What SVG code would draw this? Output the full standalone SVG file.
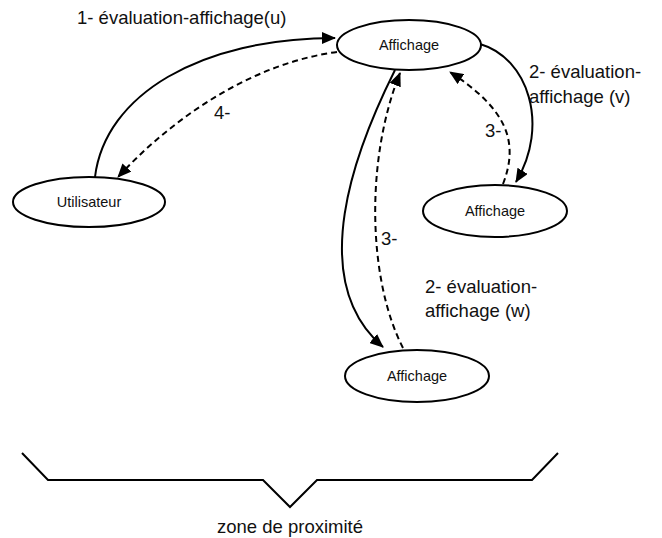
<svg xmlns="http://www.w3.org/2000/svg" width="662" height="538" viewBox="0 0 662 538">
<style>
.node ellipse{fill:#fff;stroke:#000;stroke-width:2}
.node text{font-family:"Liberation Sans",Arial,sans-serif;font-size:14.5px;fill:#111;text-anchor:middle}
.lbl{font-family:"Liberation Sans",Arial,sans-serif;font-size:18.5px;fill:#111}
.c{fill:none;stroke:#000;stroke-width:2}
.d{stroke-dasharray:6,4}
</style>
<defs>
<marker id="ah" markerUnits="userSpaceOnUse" markerWidth="14" markerHeight="12" viewBox="0 0 14 12" refX="13" refY="6" orient="auto">
<path d="M0,0 L14,6 L0,12 z" fill="#000"/>
</marker>
</defs>
<rect width="662" height="538" fill="#fff"/>
<g id="connectors">
<path class="c" d="M95,177 C105,95 200,38 335,38" marker-end="url(#ah)"/>
<path class="c d" d="M337,52 C260,62 180,110 118,177" marker-end="url(#ah)"/>
<path class="c" d="M480,44 C528,58 550,125 516,182" marker-end="url(#ah)"/>
<path class="c d" d="M503,184 C520,140 505,108 450,72" marker-end="url(#ah)"/>
<path class="c" d="M395,70 C355,150 305,280 383,347" marker-end="url(#ah)"/>
<path class="c d" d="M403,348 C368,280 365,160 400,73" marker-end="url(#ah)"/>
</g>
<g id="node-affichage-top" class="node">
<ellipse cx="409" cy="45" rx="72" ry="25"/>
<text x="409" y="50">Affichage</text>
</g>
<g id="node-utilisateur" class="node">
<ellipse cx="89" cy="202" rx="76" ry="25"/>
<text x="89" y="207">Utilisateur</text>
</g>
<g id="node-affichage-right" class="node">
<ellipse cx="495" cy="211" rx="72" ry="26"/>
<text x="495" y="216">Affichage</text>
</g>
<g id="node-affichage-bottom" class="node">
<ellipse cx="417" cy="376" rx="72" ry="26"/>
<text x="417" y="381">Affichage</text>
</g>
<g id="labels">
<text class="lbl" x="77" y="24">1- évaluation-affichage(u)</text>
<text class="lbl" x="214" y="119">4-</text>
<text class="lbl" x="529" y="78">2- évaluation-</text>
<text class="lbl" x="529" y="103">affichage (v)</text>
<text class="lbl" x="485" y="137">3-</text>
<text class="lbl" x="381" y="245">3-</text>
<text class="lbl" x="425" y="293">2- évaluation-</text>
<text class="lbl" x="425" y="317">affichage (w)</text>
</g>
<g id="brace">
<polyline class="c" points="22,453 48,480 263,480 290,507 317,480 532,480 558,453"/>
<text class="lbl" x="290" y="533" text-anchor="middle">zone de proximité</text>
</g>
</svg>
